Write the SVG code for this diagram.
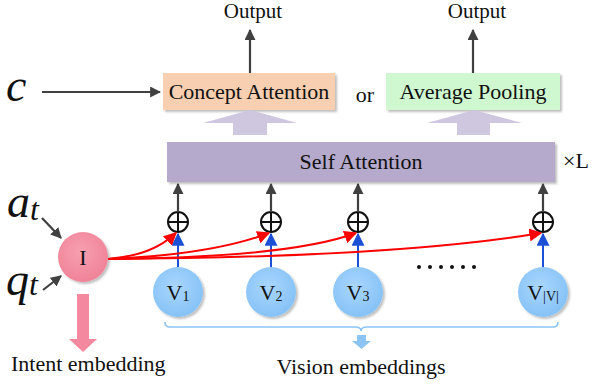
<svg xmlns="http://www.w3.org/2000/svg" width="592" height="385" viewBox="0 0 592 385">
<style>
.t{font-family:"Liberation Serif","Times New Roman",serif;fill:#111}
.it{font-family:"Liberation Serif","Times New Roman",serif;font-style:italic;fill:#111}
.dk{stroke:#404040;stroke-width:2.2;fill:none}
.rd{stroke:#ff0000;stroke-width:2;fill:none}
.bl{stroke:#1a4fd6;stroke-width:2;fill:none}
.plus{fill:#fff;stroke:#111;stroke-width:2}
</style>
<defs>
<marker id="ah" viewBox="0 0 10 10" refX="9" refY="5" markerWidth="5" markerHeight="5" orient="auto" markerUnits="strokeWidth"><path d="M0,0 L10,5 L0,10 z" fill="#404040"/></marker>
<marker id="ar" viewBox="0 0 10 10" refX="9" refY="5" markerWidth="6.5" markerHeight="6.5" orient="auto" markerUnits="strokeWidth"><path d="M0,0 L10,5 L0,10 z" fill="#ff0000"/></marker>
<marker id="ab" viewBox="0 0 10 10" refX="9" refY="5" markerWidth="6.5" markerHeight="6.5" orient="auto" markerUnits="strokeWidth"><path d="M0,0 L10,5 L0,10 z" fill="#1a4fd6"/></marker>
<radialGradient id="gv" cx="0.45" cy="0.4" r="0.6"><stop offset="0" stop-color="#a9d6ff"/><stop offset="1" stop-color="#86c2f6"/></radialGradient>
<radialGradient id="gi" cx="0.45" cy="0.4" r="0.6"><stop offset="0" stop-color="#f7a0b0"/><stop offset="1" stop-color="#f08398"/></radialGradient>
<filter id="sh" x="-20%" y="-20%" width="150%" height="150%"><feDropShadow dx="2" dy="2" stdDeviation="1.2" flood-color="#000" flood-opacity="0.25"/></filter>
</defs>

<g id="concept-attention">
<rect x="163" y="73" width="172" height="37" fill="#f8cfb0" filter="url(#sh)"/>
<text class="t" x="249" y="99" font-size="22" text-anchor="middle">Concept Attention</text>
</g>
<g id="average-pooling">
<rect x="386" y="73" width="174" height="37" fill="#cff8d0" filter="url(#sh)"/>
<text class="t" x="473" y="99" font-size="22" text-anchor="middle">Average Pooling</text>
</g>
<g id="or"><text class="t" x="365" y="102" font-size="22" text-anchor="middle">or</text></g>
<g id="self-attention">
<rect x="167" y="142" width="388" height="40" fill="#b5a9cc" filter="url(#sh)"/>
<text class="t" x="361" y="169" font-size="22" text-anchor="middle">Self Attention</text>
</g>
<g id="times-L"><text class="t" x="563" y="168" font-size="22">×L</text></g>
<g id="output1"><text class="t" x="253" y="18" font-size="21" text-anchor="middle">Output</text></g>
<g id="output2"><text class="t" x="477" y="18" font-size="21" text-anchor="middle">Output</text></g>
<g id="c-label"><text class="it" x="6" y="101" font-size="46">c</text></g>
<g id="a-label"><text class="it" x="7" y="217" font-size="46">a<tspan font-size="32" dy="3">t</tspan></text></g>
<g id="q-label"><text class="it" x="6" y="295" font-size="46">q<tspan font-size="32" dy="0">t</tspan></text></g>

<g id="node-I">
<circle cx="83" cy="257" r="25" fill="url(#gi)" filter="url(#sh)"/>
<text class="t" x="83" y="265" font-size="22" text-anchor="middle">I</text>
</g>

<g id="plus-nodes">
<g id="plus1"><circle class="plus" cx="178" cy="222" r="10"/><path d="M168,222 H188 M178,212 V232" stroke="#111" stroke-width="2"/></g>
<g id="plus2"><circle class="plus" cx="271" cy="222" r="10"/><path d="M261,222 H281 M271,212 V232" stroke="#111" stroke-width="2"/></g>
<g id="plus3"><circle class="plus" cx="358" cy="222" r="10"/><path d="M348,222 H368 M358,212 V232" stroke="#111" stroke-width="2"/></g>
<g id="plus4"><circle class="plus" cx="543" cy="222" r="10"/><path d="M533,222 H553 M543,212 V232" stroke="#111" stroke-width="2"/></g>
</g>

<g id="v-nodes">
<g id="v1"><circle cx="178" cy="292" r="25" fill="url(#gv)" filter="url(#sh)"/><text class="t" x="178" y="300" font-size="22" text-anchor="middle">V<tspan font-size="14" dy="1">1</tspan></text></g>
<g id="v2"><circle cx="271" cy="292" r="25" fill="url(#gv)" filter="url(#sh)"/><text class="t" x="271" y="300" font-size="22" text-anchor="middle">V<tspan font-size="14" dy="1">2</tspan></text></g>
<g id="v3"><circle cx="358" cy="292" r="25" fill="url(#gv)" filter="url(#sh)"/><text class="t" x="358" y="300" font-size="22" text-anchor="middle">V<tspan font-size="14" dy="1">3</tspan></text></g>
<g id="v4"><circle cx="543" cy="292" r="25" fill="url(#gv)" filter="url(#sh)"/><text class="t" x="543" y="300" font-size="22" text-anchor="middle">V<tspan font-size="14" dy="1">|V|</tspan></text></g>
</g>

<g id="dots" fill="#111">
<circle cx="419" cy="267" r="2"/><circle cx="430" cy="267" r="2"/><circle cx="441" cy="267" r="2"/><circle cx="452" cy="267" r="2"/><circle cx="463" cy="267" r="2"/><circle cx="474" cy="267" r="2"/>
</g>

<g id="connectors">
<path class="dk" d="M250,73 V30" marker-end="url(#ah)"/>
<path class="dk" d="M473,73 V30" marker-end="url(#ah)"/>
<path class="dk" d="M42,92 H160" marker-end="url(#ah)"/>
<path d="M233,135 V123 H203 L250,110 L297,123 H267 V135 z" fill="#cfc6e0"/>
<path d="M457,135 V123 H427 L474,110 L522,123 H490 V135 z" fill="#cfc6e0"/>
<path class="dk" d="M178,212 V184" marker-end="url(#ah)"/>
<path class="dk" d="M271,212 V184" marker-end="url(#ah)"/>
<path class="dk" d="M358,212 V184" marker-end="url(#ah)"/>
<path class="dk" d="M543,212 V184" marker-end="url(#ah)"/>
<path class="dk" d="M42,218 L61,238" marker-end="url(#ah)"/>
<path class="dk" d="M43,290 L61,276" marker-end="url(#ah)"/>
<path class="bl" d="M178,267 V234" marker-end="url(#ab)"/>
<path class="bl" d="M271,267 V234" marker-end="url(#ab)"/>
<path class="bl" d="M358,267 V234" marker-end="url(#ab)"/>
<path class="bl" d="M543,267 V234" marker-end="url(#ab)"/>
<path class="rd" d="M108,259 C140,256 160,248 176,233" marker-end="url(#ar)"/>
<path class="rd" d="M108,259 C180,256 235,246 269,233" marker-end="url(#ar)"/>
<path class="rd" d="M108,259 C220,258 310,250 356,233" marker-end="url(#ar)"/>
<path class="rd" d="M108,259 C280,258 440,250 541,233" marker-end="url(#ar)"/>
<path d="M77,294 H89 V339 H97 L83,352 L69,339 H77 z" fill="#f4889e"/>
<path d="M165,322 Q165,327 170,327 H355 Q361,327 361,331 Q361,327 367,327 H553 Q558,327 558,322" fill="none" stroke="#8cc4f4" stroke-width="1.6"/>
<path d="M357,335 H366 V341 H371 L361.5,349 L352,341 H357 z" fill="#8cc4f4"/>
</g>

<g id="labels">
<text class="t" x="11" y="371" font-size="22">Intent embedding</text>
<text class="t" x="361" y="374" font-size="22" text-anchor="middle">Vision embeddings</text>
</g>
</svg>
